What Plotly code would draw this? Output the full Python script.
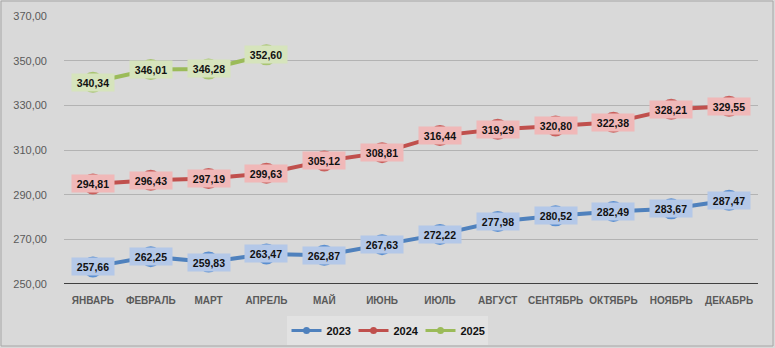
import plotly.graph_objects as go

months = ["ЯНВАРЬ", "ФЕВРАЛЬ", "МАРТ", "АПРЕЛЬ", "МАЙ", "ИЮНЬ", "ИЮЛЬ",
          "АВГУСТ", "СЕНТЯБРЬ", "ОКТЯБРЬ", "НОЯБРЬ", "ДЕКАБРЬ"]
v2023 = [257.66, 262.25, 259.83, 263.47, 262.87, 267.63, 272.22, 277.98, 280.52, 282.49, 283.67, 287.47]
v2024 = [294.81, 296.43, 297.19, 299.63, 305.12, 308.81, 316.44, 319.29, 320.80, 322.38, 328.21, 329.55]
v2025 = [340.34, 346.01, 346.28, 352.60]
y_ticks = [250, 270, 290, 310, 330, 350, 370]

series = [
    ("2023", v2023, "#4f81bd", "#5b8fd0", "#b4c8e8"),
    ("2024", v2024, "#c0504d", "#c9605d", "#f0b8b8"),
    ("2025", v2025, "#9bbb59", "#a9c472", "#d6e4bc"),
]

fig = go.Figure()
annotations = []
for name, vals, lc, mc, bg in series:
    xs = months[:len(vals)]
    fig.add_trace(go.Scatter(
        x=xs, y=vals, name=name, mode="lines+markers", showlegend=False,
        line=dict(color=lc, width=4),
        marker=dict(size=21, color=mc),
    ))
    # legend-only entry with a small marker
    fig.add_trace(go.Scatter(
        x=[None], y=[None], name=name, mode="lines+markers",
        line=dict(color=lc, width=3), marker=dict(size=7, color=lc),
    ))
    for x, v in zip(xs, vals):
        annotations.append(dict(
            x=x, y=v, xref="x", yref="y", showarrow=False,
            text=f"{v:.2f}".replace(".", ","),
            font=dict(family="Liberation Sans", size=10.5, color="#111111", weight="bold"),
            bgcolor=bg, width=42, height=17, borderpad=0,
        ))

W, H = 775, 348
ml, mr, mt, mb = 64, 17, 16, 64
pw, ph = W - ml - mr, H - mt - mb

fig.update_layout(
    width=W, height=H,
    margin=dict(l=ml, r=mr, t=mt, b=mb, autoexpand=False),
    paper_bgcolor="#d9d9d9", plot_bgcolor="#d9d9d9",
    separators=", ",
    font=dict(family="Liberation Sans", size=11, color="#595959"),
    showlegend=True,
    legend=dict(orientation="h", x=(387 - ml) / pw, xanchor="center", y=(284 - 316) / ph, yanchor="top",
                bgcolor="#e2e2e2", font=dict(size=11, color="#111111", weight="bold"),
                itemwidth=30, entrywidth=22, tracegroupgap=0),
    xaxis=dict(showgrid=False, showline=False, ticks="", tickangle=0,
               range=[-0.5, len(months) - 0.5],
               tickfont=dict(size=10, color="#595959", weight="bold"),
               ticklabelstandoff=9, fixedrange=True),
    yaxis=dict(range=[250, 370], tickvals=y_ticks, tickformat=".2f", showgrid=True,
               gridcolor="#b3b3b3", gridwidth=1, zeroline=False, showline=False,
               tickfont=dict(size=11, color="#595959"), ticklabelstandoff=16),
    annotations=annotations,
    shapes=[
        dict(type="line", xref="paper", yref="y", x0=0, x1=1, y0=250, y1=250,
             line=dict(color="#404040", width=2), layer="below"),
        dict(type="rect", xref="paper", yref="paper",
             x0=(-ml + 1) / pw, x1=1 + (mr - 2) / pw, y0=(-mb + 2) / ph, y1=1 + (mt - 1) / ph,
             line=dict(color="#a6a6a6", width=1), layer="below"),
    ],
)

fig.write_html("out.html")
